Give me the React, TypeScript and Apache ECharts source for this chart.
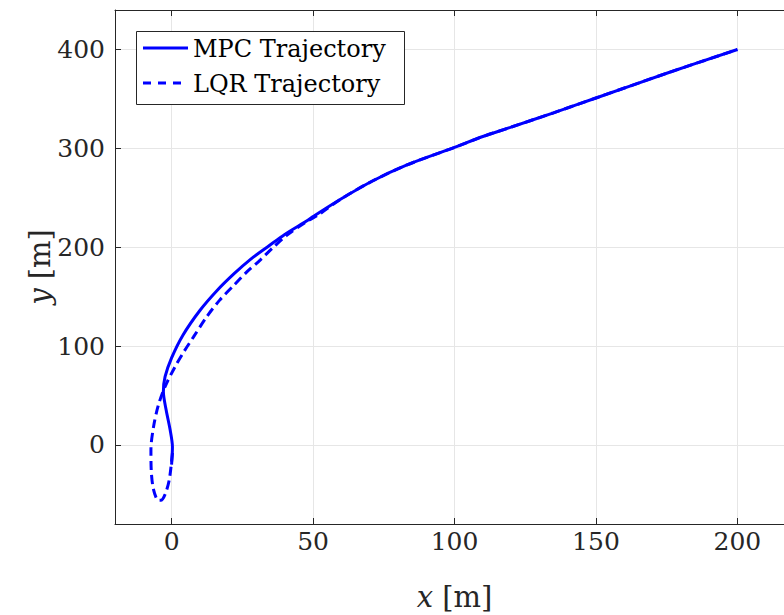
import React, { useEffect, useRef } from "react";
import * as echarts from "echarts";

const xTicks = [0, 50, 100, 150, 200];
const yTicks = [0, 100, 200, 300, 400];

const mpcX = [0, 0.3, -0.5, -1.9, -2.9, -2.3, 0, 4, 10, 16, 22, 28, 34, 40, 48, 50, 60, 71, 83, 100, 110, 120, 135, 150, 175, 200];
const mpcY = [-20, -2, 15, 35, 54, 69, 88, 111, 136, 156, 173, 188, 200.5, 213, 227, 231, 249, 267, 283, 301, 312, 321.5, 336, 351, 376, 400];

const lqrX = [0.3, -0.8, -2.3, -3.8, -4.7, -6.4, -7.2, -7.3, -6.4, -4.7, -2.3, 1.2, 4.5, 7.7, 12.4, 17, 22, 26.6, 31.3, 36, 40.7, 47.8, 52, 60, 71, 83, 100, 110, 120, 135, 150, 175, 200];
const lqrY = [-8, -35, -50, -56, -56, -45, -25, -5, 18, 40, 59, 79, 95, 109, 129.6, 146.5, 161.5, 175, 187, 200, 212, 226, 233, 249, 267, 283, 301, 312, 321.5, 336, 351, 376, 400];

const seriesNames = ["MPC Trajectory", "LQR Trajectory"];

const FONT = "DejaVu Serif";
const AXIS = "#262626";
const GRID = "#e6e6e6";
const BLUE = "#0000ff";

export default function App() {
  const ref = useRef<HTMLDivElement>(null);
  useEffect(() => {
    if (!ref.current) return;
    const chart = echarts.init(ref.current, null, { renderer: "svg" });
    const mpc = mpcX.map((x, i) => [x, mpcY[i]]);
    const lqr = lqrX.map((x, i) => [x, lqrY[i]]);
    const tickCommon = { show: true, inside: true, length: 6, lineStyle: { color: AXIS } };
    const boxAxis = { show: true, onZero: false, lineStyle: { color: AXIS, width: 1 } };
    chart.setOption({
      animation: false,
      backgroundColor: "#fff",
      textStyle: { fontFamily: FONT },
      grid: { left: 115, top: 10, width: 679, height: 514, containLabel: false },
      xAxis: [
        {
          type: "value",
          min: -20,
          max: 220,
          position: "bottom",
          axisLine: boxAxis,
          axisTick: { ...tickCommon, customValues: xTicks },
          axisLabel: { show: false, customValues: xTicks },
          splitLine: { show: true, lineStyle: { color: GRID, width: 1 } },
        },
        {
          type: "value",
          min: -20,
          max: 220,
          position: "top",
          axisLine: boxAxis,
          axisTick: { ...tickCommon, customValues: xTicks },
          axisLabel: { show: false },
          splitLine: { show: false },
        },
      ],
      yAxis: [
        {
          type: "value",
          min: -80,
          max: 440,
          position: "left",
          axisLine: boxAxis,
          axisTick: { ...tickCommon, customValues: yTicks },
          axisLabel: { show: false, customValues: yTicks },
          splitLine: { show: true, lineStyle: { color: GRID, width: 1 } },
        },
        {
          type: "value",
          min: -80,
          max: 440,
          position: "right",
          axisLine: boxAxis,
          axisTick: { ...tickCommon, customValues: yTicks },
          axisLabel: { show: false },
          splitLine: { show: false },
        },
      ],
      series: [
        {
          name: seriesNames[0],
          type: "line",
          data: mpc,
          symbol: "none",
          showSymbol: false,
          smooth: 0.3,
          lineStyle: { color: BLUE, width: 3, type: "solid" },
          itemStyle: { color: BLUE },
        },
        {
          name: seriesNames[1],
          type: "line",
          data: lqr,
          symbol: "none",
          showSymbol: false,
          smooth: 0.3,
          lineStyle: { color: BLUE, width: 3, type: [9, 5] },
          itemStyle: { color: BLUE },
        },
      ],
    });

    const px = (v: number) => chart.convertToPixel({ xAxisIndex: 0 }, v) as number;
    const py = (v: number) => chart.convertToPixel({ yAxisIndex: 0 }, v) as number;
    const textBase = { fontFamily: FONT, fontSize: 25, fill: AXIS };
    const graphics: any[] = [];
    xTicks.forEach((v) =>
      graphics.push({
        type: "text",
        x: px(v),
        y: 541,
        silent: true,
        style: { ...textBase, text: String(v), align: "center", verticalAlign: "middle" },
      })
    );
    yTicks.forEach((v) =>
      graphics.push({
        type: "text",
        x: 105,
        y: py(v),
        silent: true,
        style: { ...textBase, text: String(v), align: "right", verticalAlign: "middle" },
      })
    );
    const nameRich = { i: { fontFamily: FONT, fontSize: 29, fontStyle: "italic", fill: AXIS } };
    graphics.push({
      type: "text",
      x: (px(-20) + px(220)) / 2,
      y: 597,
      silent: true,
      style: { fontFamily: FONT, fontSize: 29, fill: AXIS, text: "{i|x} [m]", rich: nameRich, align: "center", verticalAlign: "middle" },
    });
    graphics.push({
      type: "text",
      x: 40,
      y: (py(-80) + py(440)) / 2,
      rotation: Math.PI / 2,
      silent: true,
      style: { fontFamily: FONT, fontSize: 29, fill: AXIS, text: "{i|y} [m]", rich: nameRich, align: "center", verticalAlign: "middle" },
    });
    graphics.push({
      type: "rect",
      z: 100,
      silent: true,
      shape: { x: 136.5, y: 31.5, width: 268, height: 73 },
      style: { fill: "#fff", stroke: AXIS, lineWidth: 1 },
    });
    const rows = [
      { name: seriesNames[0], y: 48, dash: null as any },
      { name: seriesNames[1], y: 83, dash: [8, 7] },
    ];
    rows.forEach((r) => {
      graphics.push({
        type: "line",
        z: 101,
        silent: true,
        shape: { x1: 143, y1: r.y, x2: 188, y2: r.y },
        style: { stroke: BLUE, lineWidth: 3, lineDash: r.dash },
      });
      graphics.push({
        type: "text",
        z: 101,
        x: 193,
        y: r.y + 1,
        silent: true,
        style: { fontFamily: FONT, fontSize: 24, fill: "#000", text: r.name, align: "left", verticalAlign: "middle" },
      });
    });
    chart.setOption({ graphic: graphics });
    return () => chart.dispose();
  }, []);
  return (
    <div style={{ position: "absolute", left: 0, top: 0, width: 784, height: 615, overflow: "hidden" }}>
      <div ref={ref} style={{ width: 810, height: 615 }} />
    </div>
  );
}
